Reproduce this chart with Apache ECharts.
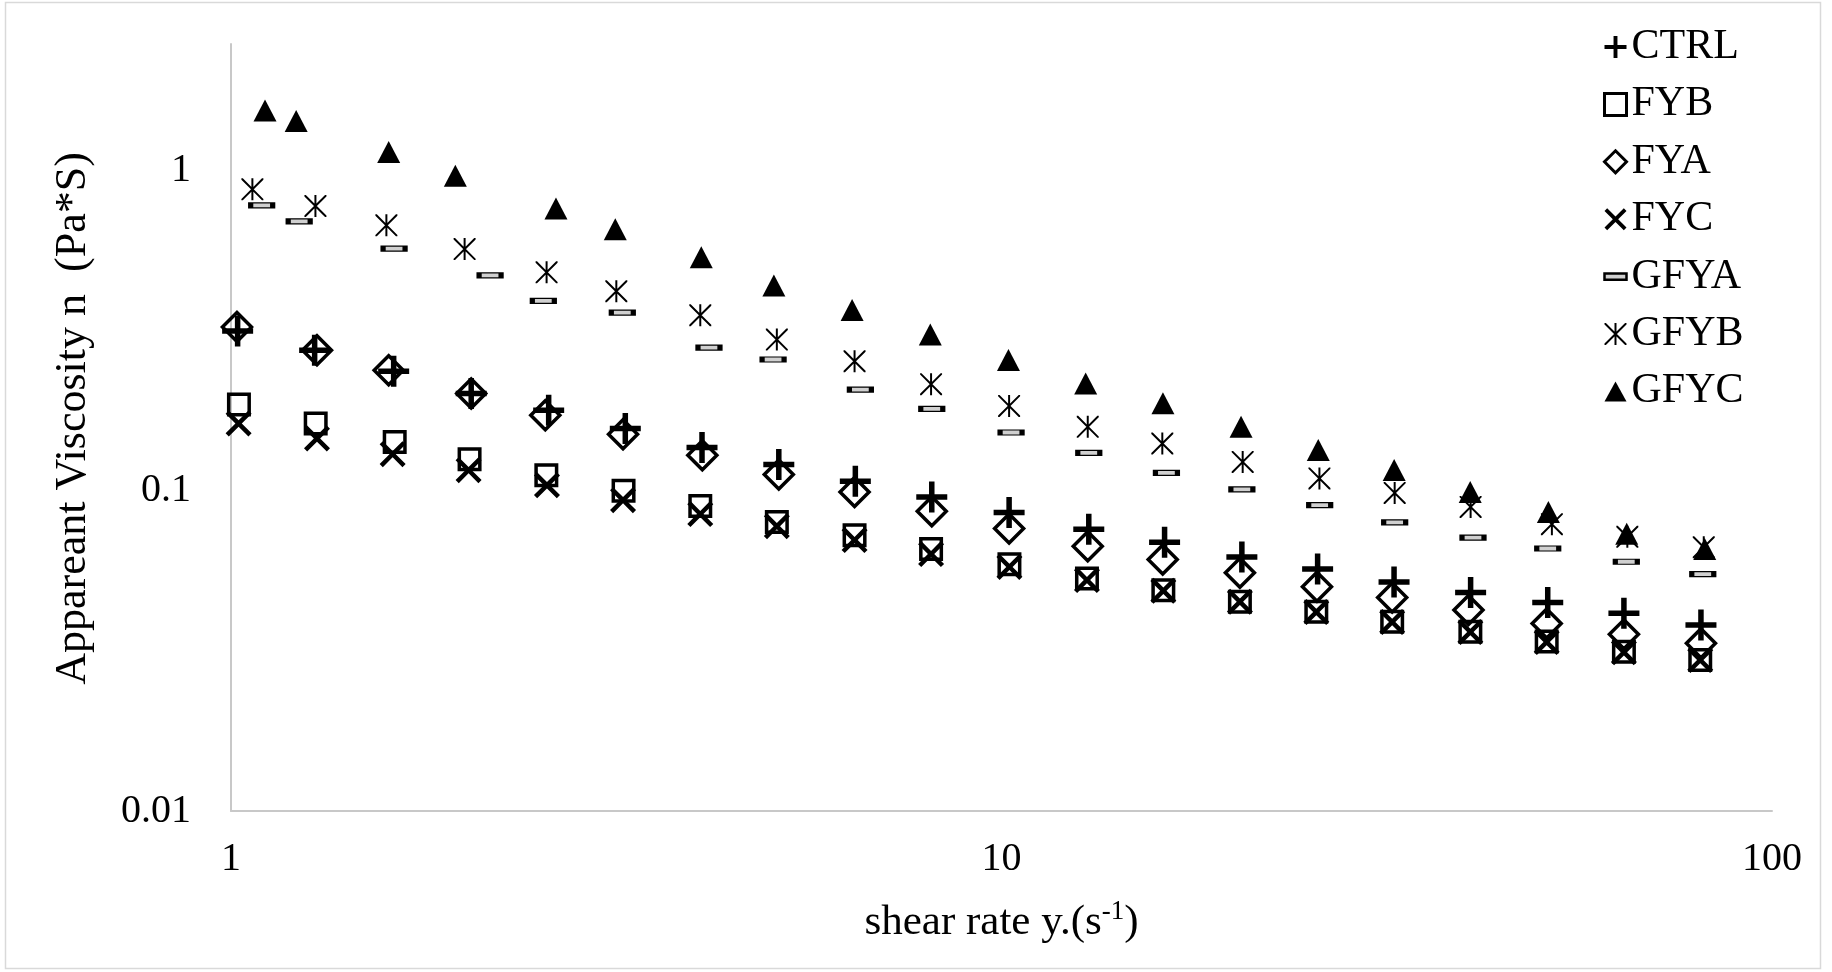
<!DOCTYPE html>
<html>
<head>
<meta charset="utf-8">
<script src="https://cdn.jsdelivr.net/npm/echarts@6/dist/echarts.min.js"></script>
<style>
html,body{margin:0;padding:0;background:#fff;}
#chart{width:1832px;height:972px;}
</style>
</head>
<body>
<div id="chart"></div>
<script>
// ---- data ----
const seriesNames = ['CTRL', 'FYB', 'FYA', 'FYC', 'GFYA', 'GFYB', 'GFYC'];
const xTickLabels = ['1', '10', '100'];
const yTickLabels = ['0.01', '0.1', '1'];

const CTRL_X = [1.020, 1.284, 1.626, 2.050, 2.584, 3.249, 4.086, 5.140, 6.461, 8.119, 10.23, 12.98, 16.28, 20.51, 25.72, 32.32, 40.63, 51.16, 64.24, 80.87];
const CTRL_Y = [0.3152, 0.2745, 0.2360, 0.2011, 0.1783, 0.1563, 0.1364, 0.1207, 0.1071, 0.0956, 0.0855, 0.0758, 0.0690, 0.0621, 0.0569, 0.0519, 0.0481, 0.0448, 0.0414, 0.0381];

const FYB_X = [1.024, 1.288, 1.631, 2.040, 2.566, 3.232, 4.065, 5.110, 6.446, 8.102, 10.24, 12.91, 16.22, 20.39, 25.62, 32.14, 40.60, 51.00, 64.24, 80.70];
const FYB_Y = [0.1858, 0.1621, 0.1420, 0.1254, 0.1117, 0.0999, 0.0895, 0.0799, 0.0726, 0.0657, 0.0589, 0.0532, 0.0489, 0.0450, 0.0419, 0.0390, 0.0363, 0.0338, 0.0314, 0.0296];

const FYA_X = [1.018, 1.293, 1.602, 2.050, 2.558, 3.227, 4.090, 5.140, 6.446, 8.119, 10.23, 12.94, 16.19, 20.39, 25.67, 32.14, 40.37, 51.00, 64.24, 80.87];
const FYA_Y = [0.3245, 0.2745, 0.2377, 0.2011, 0.1720, 0.1501, 0.1290, 0.1123, 0.0991, 0.0863, 0.0762, 0.0671, 0.0610, 0.0554, 0.0501, 0.0464, 0.0424, 0.0385, 0.0356, 0.0334];

const FYC_X = [1.023, 1.293, 1.621, 2.034, 2.571, 3.227, 4.065, 5.110, 6.446, 8.102, 10.24, 12.91, 16.22, 20.39, 25.62, 32.14, 40.60, 51.00, 64.24, 80.70];
const FYC_Y = [0.1621, 0.1455, 0.1300, 0.1159, 0.1040, 0.0934, 0.0845, 0.0775, 0.0701, 0.0634, 0.0578, 0.0526, 0.0487, 0.0450, 0.0418, 0.0389, 0.0362, 0.0337, 0.0313, 0.0296];

const GFYA_X = [1.096, 1.226, 1.628, 2.169, 2.543, 3.220, 4.172, 5.053, 6.559, 8.119, 10.29, 12.98, 16.37, 20.51, 25.88, 32.38, 40.92, 51.16, 64.70, 81.31];
const GFYA_Y = [0.7776, 0.6933, 0.5696, 0.4703, 0.3912, 0.3598, 0.2798, 0.2567, 0.2069, 0.1800, 0.1519, 0.1312, 0.1136, 0.1009, 0.0901, 0.0796, 0.0714, 0.0660, 0.0600, 0.0549];

const GFYB_X = [1.066, 1.287, 1.591, 2.010, 2.568, 3.163, 4.065, 5.110, 6.446, 8.102, 10.23, 12.94, 16.17, 20.56, 25.86, 32.38, 40.63, 51.80, 64.90, 81.55];
const GFYB_Y = [0.8724, 0.7738, 0.6736, 0.5679, 0.4805, 0.4194, 0.3529, 0.2963, 0.2536, 0.2150, 0.1839, 0.1582, 0.1404, 0.1230, 0.1092, 0.0984, 0.0890, 0.0786, 0.0718, 0.0666];

const GFYC_X = [1.107, 1.215, 1.602, 1.955, 2.641, 3.153, 4.077, 5.065, 6.399, 8.083, 10.21, 12.86, 16.20, 20.46, 25.77, 32.33, 40.58, 51.26, 64.78, 81.79];
const GFYC_Y = [1.539, 1.427, 1.142, 0.9626, 0.7596, 0.6546, 0.5353, 0.4373, 0.3667, 0.3074, 0.2556, 0.2162, 0.1874, 0.1584, 0.1339, 0.1161, 0.0990, 0.0858, 0.0734, 0.0657];

// ---- styles ----
const FONT = "'Liberation Serif', 'Times New Roman', serif";
const PLUS = 'path://M25.5,0H36.5V25.5H62V36.5H36.5V62H25.5V36.5H0V25.5H25.5Z';
const CROSS = 'path://M12.2,0L50,37.8L87.8,0L100,12.2L62.2,50L100,87.8L87.8,100L50,62.2L12.2,100L0,87.8L37.8,50L0,12.2Z';
const STAR = 'path://M45.5,0H54.5V100H45.5Z M0,0H6.4L100,93.6V100H93.6L0,6.4Z M93.6,0H100V6.4L6.4,100H0V93.6Z';
const DASH = 'path://M0,0H24V7H0Z';
const TRI = 'path://M11,0L22,20H0Z';

function pts(xs, ys) { return xs.map((x, i) => [x, ys[i]]); }
function expIndex(v) { const e = Math.log10(v); const r = Math.round(e); return Math.abs(e - r) < 1e-6 ? r : null; }

const styleMap = {
  CTRL: { symbol: PLUS, symbolSize: 31, itemStyle: { color: '#000', opacity: 1 } },
  FYB:  { symbol: 'rect', symbolSize: 20.5, itemStyle: { color: 'rgba(0,0,0,0)', borderColor: '#000', borderWidth: 3.5, opacity: 1 } },
  FYA:  { symbol: 'diamond', symbolSize: 29, itemStyle: { color: 'rgba(0,0,0,0)', borderColor: '#000', borderWidth: 3.5, opacity: 1 } },
  FYC:  { symbol: CROSS, symbolSize: 26, itemStyle: { color: '#000', opacity: 1 } },
  GFYA: { symbol: DASH, symbolSize: [22, 5], itemStyle: { color: '#d0d0d0', borderColor: '#000', borderWidth: 2.5, opacity: 1 } },
  GFYB: { symbol: STAR, symbolSize: 22, itemStyle: { color: '#000', opacity: 1 } },
  GFYC: { symbol: 'triangle', symbolSize: [23, 22], itemStyle: { color: '#000', opacity: 1 } }
};
const dataMap = {
  CTRL: pts(CTRL_X, CTRL_Y), FYB: pts(FYB_X, FYB_Y), FYA: pts(FYA_X, FYA_Y), FYC: pts(FYC_X, FYC_Y),
  GFYA: pts(GFYA_X, GFYA_Y), GFYB: pts(GFYB_X, GFYB_Y), GFYC: pts(GFYC_X, GFYC_Y)
};
const legendExtra = {
  FYB: { itemStyle: { color: 'rgba(0,0,0,0)', borderColor: '#000', borderWidth: 3 } },
  FYA: { itemStyle: { color: 'rgba(0,0,0,0)', borderColor: '#000', borderWidth: 3 } },
  GFYA: { itemStyle: { color: '#d0d0d0', borderColor: '#000', borderWidth: 2.5 } },
  GFYC: { icon: TRI }
};

const chart = echarts.init(document.getElementById('chart'), null, { renderer: 'canvas' });
chart.setOption({
  animation: false,
  backgroundColor: '#fff',
  graphic: [{
    type: 'rect', shape: { x: 5.5, y: 2.5, width: 1815, height: 966 },
    style: { fill: 'none', stroke: '#d9d9d9', lineWidth: 1.5 }, silent: true, z: -1
  }],
  grid: { left: 231, right: 60, top: 44, bottom: 161, containLabel: false },
  legend: {
    orient: 'vertical', left: 1603, top: 26, padding: 0,
    itemWidth: 22, itemHeight: 22, itemGap: 15.4,
    itemStyle: { opacity: 1 },
    textStyle: { fontFamily: FONT, fontSize: 42, lineHeight: 42, color: '#000' },
    data: seriesNames.map(n => Object.assign({ name: n }, legendExtra[n] || {}))
  },
  xAxis: {
    type: 'log', logBase: 10, min: 1, max: 100,
    name: 'shear rate y.(s{sup|-1})', nameLocation: 'middle', nameGap: 87,
    nameTextStyle: {
      fontFamily: FONT, fontSize: 43, color: '#000', lineHeight: 50,
      rich: { sup: { fontFamily: FONT, fontSize: 27, color: '#000', verticalAlign: 'top', lineHeight: 50 } }
    },
    axisLine: { show: true, lineStyle: { color: '#c8c8c8', width: 2 } },
    axisTick: { show: false }, splitLine: { show: false }, minorTick: { show: false }, minorSplitLine: { show: false },
    axisLabel: {
      fontFamily: FONT, fontSize: 40, color: '#000', margin: 28,
      formatter: v => { const r = expIndex(v); return r === null ? '' : (xTickLabels[r] || ''); }
    }
  },
  yAxis: {
    type: 'log', logBase: 10, min: 0.01, max: 2.48,
    name: 'Appareant Viscosity n  (Pa*S)', nameLocation: 'middle', nameGap: 136,
    nameTextStyle: { fontFamily: FONT, fontSize: 44, color: '#000', padding: [0, 0, 0, 18] },
    axisLine: { show: true, lineStyle: { color: '#c8c8c8', width: 2 } },
    axisTick: { show: false }, splitLine: { show: false }, minorTick: { show: false }, minorSplitLine: { show: false },
    axisLabel: {
      fontFamily: FONT, fontSize: 40, color: '#000', margin: 40,
      formatter: v => { const r = expIndex(v); return r === null ? '' : (yTickLabels[r + 2] || ''); }
    }
  },
  series: seriesNames.map(n => Object.assign({
    name: n, type: 'scatter', data: dataMap[n], symbolKeepAspect: false
  }, styleMap[n]))
});
</script>
</body>
</html>
